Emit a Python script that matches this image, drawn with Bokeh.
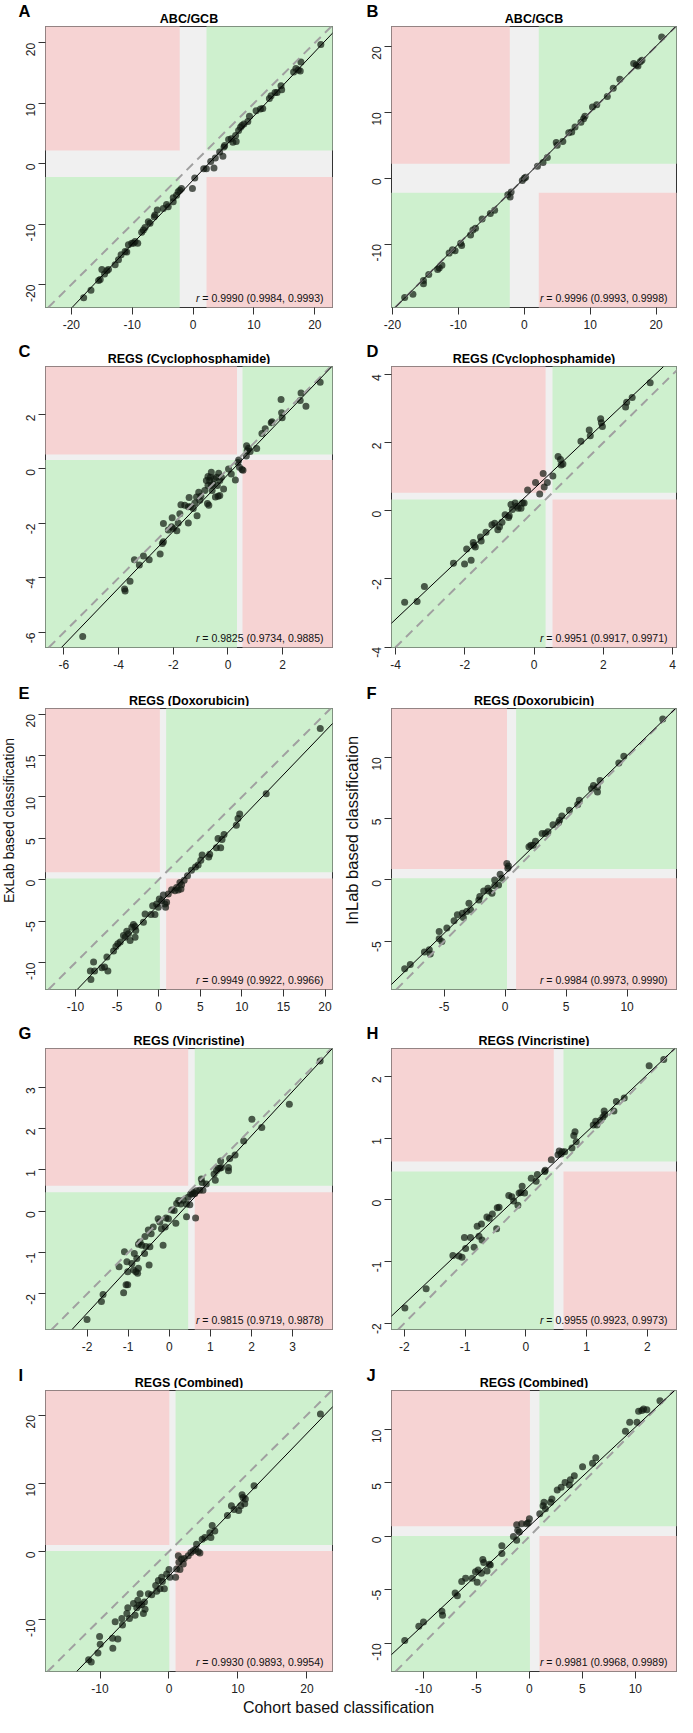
import math
from bokeh.plotting import figure
from bokeh.models import Label, Slope, FixedTicker, Range1d
from bokeh.layouts import column, row
from bokeh.embed import file_html
from bokeh.resources import INLINE

# ---------------- data ----------------
panel_letters = ["A", "B", "C", "D", "E", "F", "G", "H", "I", "J"]
panel_titles = ["ABC/GCB", "ABC/GCB",
                "REGS (Cyclophosphamide)", "REGS (Cyclophosphamide)",
                "REGS (Doxorubicin)", "REGS (Doxorubicin)",
                "REGS (Vincristine)", "REGS (Vincristine)",
                "REGS (Combined)", "REGS (Combined)"]
r_texts = ["0.9990 (0.9984, 0.9993)", "0.9996 (0.9993, 0.9998)",
           "0.9825 (0.9734, 0.9885)", "0.9951 (0.9917, 0.9971)",
           "0.9949 (0.9922, 0.9966)", "0.9984 (0.9973, 0.9990)",
           "0.9815 (0.9719, 0.9878)", "0.9955 (0.9923, 0.9973)",
           "0.9930 (0.9893, 0.9954)", "0.9981 (0.9968, 0.9989)"]
y_axis_titles = ["ExLab based classification", "InLab based classification"]
x_axis_title = "Cohort based classification"

a_x = [-17.98, -16.78, -15.53, -15.26, -14.99, -14.55, -14.17, -13.90, -12.81, -12.26, -11.83, -11.17, -10.90, -10.63,
       -10.08, -9.81, -9.54, -9.10, -8.45, -8.17, -7.90, -7.36, -7.08, -6.38, -6.27, -5.89, -4.90, -4.36, -4.09, -3.27,
       -3.27, -2.72, -2.45, -2.18, -1.91, -0.11, 0.27, 1.74, 2.18, 2.89, 3.43, 3.65, 4.36, 4.90, 5.07, 5.18, 5.83, 6.27,
       6.54, 7.08, 6.98, 7.47, 7.79, 8.01, 8.34, 8.99, 9.26, 10.35, 11.06, 11.44, 12.53, 12.81, 13.46, 13.79, 14.44,
       14.55, 16.51, 16.89, 17.28, 17.60, 17.71, 20.98]
a_y = [-22.19, -20.93, -19.34, -19.18, -17.53, -18.25, -17.70, -17.53, -16.71, -15.89, -15.07, -14.52, -14.63, -13.42,
       -13.15, -13.15, -12.88, -13.15, -11.34, -10.96, -10.58, -9.59, -9.86, -8.77, -8.49, -7.67, -7.40, -6.74, -7.12,
       -6.30, -5.64, -5.21, -4.66, -4.38, -4.11, -4.11, -2.36, -0.82, -0.82, 0.38, -0.71, 0.93, 1.92, 1.21, 2.74, 3.01,
       4.00, 4.11, 3.56, 3.67, 4.66, 5.48, 6.03, 6.30, 6.58, 6.96, 7.84, 8.77, 9.04, 9.15, 10.79, 11.23, 11.78, 11.78,
       12.88, 12.22, 15.18, 15.73, 15.51, 15.34, 16.82, 19.73]

b_x = [-18.15, -16.9, -15.3, -15.3, -14.5, -13.15, -12.9, -12.5, -11.4, -10.9, -10.5, -9.65, -9.5, -8.15, -7.8, -7.4,
       -6.4, -5.15, -4.5, -2.5, -2.15, -2.0, -0.3, 0.0, 0.2, 2.0, 2.85, 3.5, 4.85, 5.0, 5.85, 6.75, 7.2, 7.7, 8.6, 9.0,
       9.2, 10.35, 11.0, 12.6, 13.5, 14.5, 16.6, 17.0, 17.25, 17.6, 17.85, 20.85]
b_y = [-18.1, -17.6, -16.0, -15.5, -14.6, -13.85, -13.6, -13.2, -11.35, -10.85, -11.0, -9.85, -10.2, -8.6, -7.85, -7.6,
       -6.2, -5.35, -4.85, -2.5, -2.85, -2.1, -0.35, 0.0, 0.15, 1.8, 2.4, 3.15, 5.4, 5.0, 5.55, 6.9, 7.0, 7.75, 8.5, 9.0,
       9.4, 10.8, 11.15, 12.4, 13.65, 15.0, 17.4, 17.15, 17.0, 17.65, 17.9, 21.4]

c_x = [-5.31, -3.78, -3.76, -3.58, -3.42, -3.24, -3.09, -2.88, -2.48, -2.40, -2.36, -2.36, -2.18, -2.06, -2.04, -2.0,
       -1.87, -1.82, -1.76, -1.72, -1.58, -1.45, -1.45, -1.42, -1.37, -1.27, -1.21, -1.15, -1.13, -1.07, -1.03, -0.99,
       -0.85, -0.79, -0.75, -0.73, -0.73, -0.70, -0.67, -0.64, -0.61, -0.61, -0.58, -0.55, -0.51, -0.46, -0.42, -0.39,
       -0.36, -0.34, -0.30, -0.30, -0.24, -0.16, 0.02, 0.12, 0.27, 0.36, 0.39, 0.42, 0.51, 0.55, 0.67, 0.68, 0.70, 0.75,
       0.81, 1.05, 1.24, 1.36, 1.58, 1.61, 1.94, 1.96, 1.98, 2.64, 2.67, 2.85, 3.37]
c_y = [-6.15, -4.40, -4.48, -4.12, -3.33, -3.52, -3.19, -3.33, -3.12, -2.73, -2.67, -2.00, -2.24, -2.12, -1.79, -2.18,
       -2.27, -1.98, -1.64, -1.31, -1.33, -1.98, -1.39, -1.05, -1.39, -1.45, -1.25, -1.03, -1.72, -0.85, -1.15, -1.0,
       -0.79, -0.42, -1.27, -0.61, -0.28, -1.33, -0.42, -0.30, -0.61, -0.12, -0.79, -0.55, -0.36, -1.03, -0.30, -0.61,
       -1.0, -0.16, -0.42, -0.97, -0.30, -0.73, 0.0, -0.18, -0.40, 0.24, 0.33, 0.06, -0.02, -0.05, 0.48, 0.85, 0.67, 0.76,
       0.64, 0.75, 1.30, 1.48, 1.70, 1.73, 2.55, 2.06, 1.88, 2.51, 2.79, 2.30, 3.18]

d_x = [-3.74, -3.38, -3.17, -2.33, -2.01, -1.95, -1.82, -1.76, -1.74, -1.70, -1.53, -1.55, -1.39, -1.22, -1.14, -1.05,
       -1.0, -0.93, -0.84, -0.74, -0.72, -0.67, -0.63, -0.55, -0.50, -0.46, -0.38, -0.34, -0.29, -0.19, 0.04, 0.16, 0.26,
       0.29, 0.38, 0.54, 0.69, 0.76, 0.78, 0.83, 1.35, 1.59, 1.62, 1.92, 1.94, 1.97, 2.64, 2.67, 2.83, 3.35]
d_y = [-2.68, -2.66, -2.22, -1.54, -1.56, -1.12, -1.45, -0.93, -1.01, -1.06, -0.89, -0.77, -0.63, -0.41, -0.37, -0.56,
       -0.47, -0.34, -0.12, -0.20, -0.15, 0.18, 0.04, 0.23, 0.13, 0.07, 0.07, 0.23, 0.23, 0.61, 0.83, 0.49, 1.09, 0.70,
       0.83, 1.02, 1.59, 1.50, 1.34, 1.37, 2.04, 2.37, 2.20, 2.70, 2.58, 2.47, 3.04, 3.18, 3.32, 3.75]

e_x = [-8.21, -8.14, -7.82, -7.7, -6.82, -6.5, -6.1, -6.22, -5.42, -5.14, -4.9, -4.62, -4.23, -4.03, -3.83, -3.63,
       -3.43, -3.23, -3.03, -2.83, -2.83, -2.75, -1.83, -1.63, -0.92, -0.72, -0.44, -0.24, -0.04, 0.08, 0.36, 0.56, 0.76,
       0.84, 0.96, 1.16, 1.56, 1.96, 2.16, 2.36, 2.56, 2.68, 2.76, 3.07, 3.47, 3.95, 4.43, 4.75, 5.07, 5.23, 6.02, 6.14,
       6.94, 7.14, 7.46, 7.62, 7.86, 9.34, 9.54, 9.74, 12.93, 19.43]
e_y = [-11.0, -12.04, -9.92, -11.0, -10.6, -10.52, -11.0, -9.32, -8.6, -8.04, -7.72, -7.52, -6.72, -6.92, -6.2, -6.52,
       -7.32, -5.72, -5.4, -5.64, -6.92, -6.12, -5.12, -4.12, -4.2, -3.12, -4.2, -2.92, -3.32, -2.32, -2.52, -1.84, -2.92,
       -3.32, -2.72, -1.72, -1.2, -1.32, -0.92, -1.24, -0.32, -1.12, -0.6, -0.04, 0.48, 1.16, 1.56, 1.8, 2.36, 3.0, 2.76,
       3.08, 3.88, 5.0, 3.88, 4.88, 5.48, 6.6, 7.4, 7.96, 10.4, 18.28]

f_x = [-8.24, -7.78, -6.62, -6.22, -6.14, -5.41, -5.41, -5.19, -4.78, -4.19, -3.92, -3.51, -3.43, -3.16, -2.97, -2.84,
       -2.16, -2.08, -1.76, -1.41, -1.35, -1.08, -0.86, -0.86, -0.54, -0.41, -0.27, 0.14, 0.22, 0.27, 1.95, 2.11, 2.30,
       2.49, 3.03, 3.30, 3.51, 3.92, 4.38, 4.46, 4.65, 5.27, 5.95, 6.08, 7.08, 7.24, 7.57, 7.57, 7.78, 9.32, 9.73, 12.92]
f_y = [-7.22, -6.89, -5.86, -5.68, -6.03, -4.19, -4.78, -5.0, -3.92, -3.32, -2.84, -2.70, -3.05, -2.57, -1.89, -2.43,
       -1.62, -1.35, -0.89, -0.68, -0.89, -1.08, 0.0, -0.46, -0.41, 0.46, 0.14, 1.35, 0.95, 1.14, 2.70, 2.84, 2.84,
       3.16, 3.78, 3.78, 3.92, 4.51, 4.68, 4.86, 5.22, 5.68, 6.14, 6.49, 7.43, 7.70, 7.57, 7.16, 8.11, 9.54, 10.08, 13.11]

g_x = [-2.0, -1.65, -1.61, -1.22, -1.11, -1.09, -1.05, -1.01, -1.03, -1.01, -0.91, -0.87, -0.85, -0.81, -0.79, -0.77,
       -0.75, -0.75, -0.71, -0.67, -0.60, -0.59, -0.57, -0.51, -0.49, -0.47, -0.44, -0.39, -0.27, -0.23, -0.19, -0.15,
       -0.10, -0.08, -0.02, 0.06, 0.12, 0.16, 0.18, 0.23, 0.28, 0.34, 0.42, 0.42, 0.46, 0.50, 0.52, 0.56, 0.58, 0.62,
       0.64, 0.66, 0.74, 0.78, 0.80, 0.82, 0.90, 1.09, 1.12, 1.15, 1.19, 1.23, 1.25, 1.27, 1.44, 1.44, 1.47, 1.60, 1.81,
       2.01, 2.25, 2.92, 3.67]
g_y = [-2.62, -2.18, -2.01, -1.34, -1.97, -0.98, -1.78, -1.78, -1.22, -1.46, -1.26, -1.42, -1.02, -1.46, -1.14, -1.50,
       -0.80, -1.38, -0.74, -0.82, -1.02, -0.61, -0.85, -0.45, -1.30, -0.86, -0.54, -0.38, -0.18, -0.26, -0.42, -0.82,
       -0.38, -0.16, -0.18, 0.03, 0.02, -0.29, 0.19, 0.26, 0.18, 0.27, 0.18, -0.13, 0.34, 0.16, 0.42, 0.42, 0.46, 0.43,
       -0.16, 0.50, 0.51, 0.78, 0.70, 0.51, 0.66, 0.90, 0.75, 0.99, 1.04, 1.04, 1.22, 1.06, 1.06, 0.98, 1.28, 1.36, 1.70,
       2.23, 2.03, 2.59, 3.64]

h_x = [-1.99, -1.64, -1.20, -1.10, -1.05, -1.01, -0.99, -0.91, -0.85, -0.80, -0.77, -0.73, -0.72, -0.64, -0.60, -0.55,
       -0.48, -0.47, -0.44, -0.28, -0.23, -0.20, -0.13, -0.11, -0.08, -0.06, -0.02, 0.09, 0.17, 0.19, 0.31, 0.32, 0.42,
       0.53, 0.55, 0.58, 0.60, 0.64, 0.76, 0.79, 0.81, 0.83, 1.11, 1.15, 1.17, 1.23, 1.27, 1.29, 1.30, 1.45, 1.49, 1.62,
       2.03, 2.27]
h_y = [-1.75, -1.44, -0.90, -0.91, -0.93, -0.61, -0.79, -0.61, -0.77, -0.43, -0.59, -0.39, -0.65, -0.28, -0.30, -0.23,
       -0.47, -0.13, -0.12, 0.07, 0.05, -0.02, -0.09, 0.11, 0.12, 0.22, 0.11, 0.35, 0.30, 0.41, 0.46, 0.48, 0.65, 0.73,
       0.79, 0.74, 0.78, 0.78, 0.84, 1.04, 1.10, 0.94, 1.21, 1.27, 1.21, 1.29, 1.34, 1.44, 1.38, 1.44, 1.59, 1.65, 2.17,
       2.27]

i_x = [-11.65, -11.27, -10.3, -9.97, -10.06, -8.14, -8.18, -7.41, -7.80, -6.74, -6.84, -6.11, -5.97, -5.73, -5.15,
       -4.91, -4.67, -4.53, -4.33, -4.19, -3.95, -3.71, -3.56, -3.47, -2.99, -2.5, -1.93, -1.78, -1.54, -1.30, -1.06,
       -0.96, -0.67, -0.34, 0.0, 0.14, 0.96, 1.11, 1.35, 1.44, 1.59, 1.83, 2.07, 2.21, 2.79, 3.18, 3.51, 3.85, 4.0, 4.24,
       4.48, 4.81, 5.20, 5.92, 6.07, 6.26, 6.64, 8.47, 9.05, 9.44, 10.11, 10.40, 10.59, 10.74, 10.98, 11.07, 12.33, 21.95]
i_y = [-15.87, -16.2, -14.9, -13.6, -12.48, -14.18, -12.72, -12.82, -10.3, -10.79, -9.82, -9.10, -8.27, -9.82, -7.64,
       -9.34, -8.27, -7.16, -7.89, -6.19, -7.79, -9.10, -7.40, -8.47, -6.19, -6.34, -4.98, -5.85, -4.26, -5.47, -3.77,
       -4.40, -5.47, -3.29, -2.66, -3.77, -3.77, -2.56, -0.63, -1.60, -2.66, -1.11, -1.84, -1.02, -0.63, -0.15, 0.10,
       0.34, 1.06, -0.05, -0.24, 1.79, 2.03, 2.76, 2.03, 3.82, 3.0, 5.27, 6.72, 6.14, 6.0, 6.72, 8.32, 7.93, 7.01, 7.69,
       9.63, 20.17]

j_x = [-11.77, -10.44, -10.0, -8.26, -8.2, -7.01, -6.8, -6.39, -6.02, -5.40, -5.09, -4.93, -4.84, -4.53, -4.40, -4.31,
       -4.0, -3.78, -3.69, -2.60, -2.60, -1.51, -1.20, -1.20, -1.10, -0.95, -0.73, -0.26, -0.11, 0.0, 0.98, 1.29, 1.38,
       1.51, 2.0, 2.13, 2.63, 3.0, 3.37, 3.78, 3.87, 4.24, 5.02, 5.96, 6.27, 9.07, 9.47, 10.16, 10.31, 10.62, 10.78,
       11.09, 12.33]
j_y = [-9.72, -8.39, -7.99, -7.0, -7.37, -5.30, -5.55, -4.22, -3.91, -3.91, -3.29, -4.28, -3.14, -3.45, -2.15, -2.43,
       -3.23, -2.61, -2.67, -1.59, -0.88, 0.0, -0.36, 1.10, 0.57, 0.42, 1.19, 1.19, 1.28, 1.65, 2.12, 2.88, 3.2, 2.58,
       3.20, 3.51, 4.34, 4.59, 5.05, 4.81, 5.3, 5.67, 6.51, 6.85, 7.37, 9.85, 10.68, 10.68, 11.7, 11.79, 11.92, 11.86,
       12.69]

x_limits = [(-24.25, 22.9), (-20.15, 23.1), (-6.67, 3.82), (-4.12, 4.11), (-13.6, 20.9),
            (-9.32, 14.05), (-3.01, 3.97), (-2.21, 2.48), (-17.9, 23.7), (-13.02, 13.89)]
y_limits = [(-23.8, 22.7), (-19.6, 23.0), (-6.55, 3.76), (-4.01, 4.23), (-13.24, 20.68),
            (-8.92, 13.97), (-2.86, 3.94), (-2.10, 2.45), (-17.6, 23.6), (-12.63, 13.65)]
# grey-zone limits (low, high) used for both axes
cut_limits = [(-2.2, 2.2), (-2.2, 2.2), (0.33, 0.53), (0.33, 0.53), (0.15, 0.9),
              (0.15, 0.9), (0.46, 0.62), (0.46, 0.62), (0.05, 0.95), (0.05, 0.95)]
fit_slopes = [1.061, 1.0, 1.043, 0.958, 1.046, 0.965, 1.074, 0.929, 1.046, 0.924]
fit_intercepts = [-2.70, 0.0, -0.20, 0.65, -3.0, 0.49, -0.32, 0.17, -3.6, 0.98]
x_ticks = [[-20, -10, 0, 10, 20], [-20, -10, 0, 10, 20], [-6, -4, -2, 0, 2], [-4, -2, 0, 2, 4],
           [-10, -5, 0, 5, 10, 15, 20], [-5, 0, 5, 10], [-2, -1, 0, 1, 2, 3], [-2, -1, 0, 1, 2],
           [-10, 0, 10, 20], [-10, -5, 0, 5, 10]]
y_ticks = [[-20, -10, 0, 10, 20], [-10, 0, 10, 20], [-6, -4, -2, 0, 2], [-4, -2, 0, 2, 4],
           [-10, -5, 0, 5, 10, 15, 20], [-5, 0, 5, 10], [-2, -1, 0, 1, 2, 3], [-2, -1, 0, 1, 2],
           [-10, 0, 10, 20], [-10, -5, 0, 5, 10]]

xs_all = [a_x, b_x, c_x, d_x, e_x, f_x, g_x, h_x, i_x, j_x]
ys_all = [a_y, b_y, c_y, d_y, e_y, f_y, g_y, h_y, i_y, j_y]

# ---------------- style / layout ----------------
FONT = "Liberation Sans"
PINK = "#F6D3D3"
GREEN = "#CEF0CE"
BAND = "#F0F0F0"
TOTAL_W = 677
FRAME_H = 281
HEADER_H = 24
PANEL_TOP = 2
row_heights = [340, 342, 340, 342, 333]
FOOTER_H = 20
LEFT_FW, RIGHT_FW = 287, 285
LEFT_FRAME_X, RIGHT_FRAME_X = 45, 391

ARIAL_W = {"0": 556, "1": 556, "2": 556, "3": 556, "4": 556, "5": 556, "6": 556, "7": 556, "8": 556, "9": 556,
           ".": 278, ",": 278, "(": 333, ")": 333, " ": 278, "=": 584}


def text_width(s, size):
    return sum(ARIAL_W.get(ch, 556) for ch in s) / 1000.0 * size


def blank(w, h):
    f = figure(width=w, height=h, x_range=Range1d(0, w), y_range=Range1d(0, h),
               output_backend="svg", toolbar_location=None, tools="",
               min_border=0, x_axis_location=None, y_axis_location=None,
               outline_line_color=None, background_fill_color="white", border_fill_color="white")
    f.grid.visible = False
    return f


def make_header(r):
    hd = blank(TOTAL_W, HEADER_H)
    letter_mid = 13.5  # vertical middle of the panel letter
    title_base = 6     # baseline 8px above the frame top
    for k, (lx, fx, fw) in enumerate([(18, LEFT_FRAME_X, LEFT_FW), (366, RIGHT_FRAME_X, RIGHT_FW)]):
        i = 2 * r + k
        hd.add_layout(Label(x=lx, y=letter_mid, text=panel_letters[i], text_font=FONT, text_font_style="bold",
                            text_font_size="16.5px", text_align="left", text_baseline="middle",
                            text_color="black"))
        hd.add_layout(Label(x=fx + fw / 2, y=title_base, text=panel_titles[i], text_font=FONT,
                            text_font_style="bold", text_font_size="12.5px", text_align="center",
                            text_baseline="alphabetic", text_color="black"))
    return hd


def make_panel(i, w, bl, br, h):
    fw = w - bl - br
    bb = h - PANEL_TOP - FRAME_H
    x0, x1 = x_limits[i]
    y0, y1 = y_limits[i]
    lo, hi = cut_limits[i]
    p = figure(width=w, height=h, x_range=Range1d(x0, x1), y_range=Range1d(y0, y1),
               output_backend="svg", toolbar_location=None, tools="",
               min_border_left=bl, min_border_right=br, min_border_top=PANEL_TOP, min_border_bottom=bb,
               background_fill_color=BAND, border_fill_color="white",
               outline_line_color="#333333", outline_line_width=1)
    p.grid.visible = False
    ex = (x1 - x0)
    ey = (y1 - y0)
    p.quad(left=[x0 - ex, hi, x0 - ex, hi], right=[lo, x1 + ex, lo, x1 + ex],
           bottom=[hi, hi, y0 - ey, y0 - ey], top=[y1 + ey, y1 + ey, lo, lo],
           fill_color=[PINK, GREEN, GREEN, PINK], line_color=None)
    p.scatter(xs_all[i], ys_all[i], size=7, fill_color="#101810", fill_alpha=0.7, line_color=None)
    p.add_layout(Slope(gradient=1, y_intercept=0, line_color="#A0A0A0", line_width=2, line_dash="9 6"))
    p.add_layout(Slope(gradient=fit_slopes[i], y_intercept=fit_intercepts[i], line_color="black", line_width=1))

    for ax in (p.xaxis[0], p.yaxis[0]):
        ax.axis_line_color = None
        ax.major_tick_line_color = "#333333"
        ax.major_tick_out = 7
        ax.major_tick_in = 0
        ax.minor_tick_line_color = None
        ax.major_label_text_font = FONT
        ax.major_label_text_font_size = "12px"
        ax.major_label_text_color = "#222222"
    p.xaxis.ticker = FixedTicker(ticks=x_ticks[i])
    p.xaxis.major_label_overrides = {t: str(t) for t in x_ticks[i]}
    p.xaxis.major_label_standoff = 5
    p.yaxis.ticker = FixedTicker(ticks=y_ticks[i])
    p.yaxis.major_label_overrides = {t: str(t) for t in y_ticks[i]}
    p.yaxis.major_label_orientation = math.pi / 2
    p.yaxis.major_label_standoff = 8

    # correlation text (inside the frame)
    rsize = 10.5
    rest = "= " + r_texts[i]
    p.add_layout(Label(x=fw - 9, y=9.5, x_units="screen", y_units="screen", text=rest,
                       text_font=FONT, text_font_size=f"{rsize}px", text_align="right",
                       text_baseline="alphabetic", text_color="#111111"))
    p.add_layout(Label(x=fw - 9 - text_width(rest, rsize) - 2.9, y=9.5, x_units="screen", y_units="screen",
                       text="r", text_font=FONT, text_font_style="italic", text_font_size=f"{rsize}px",
                       text_align="right", text_baseline="alphabetic", text_color="#111111"))
    return p


def make_strip(w, h, text, cx, cy, size):
    s = blank(w, h)
    s.add_layout(Label(x=cx, y=cy, text=text, angle=math.pi / 2, text_font=FONT, text_font_size=size,
                       text_align="center", text_baseline="middle", text_color="#111111"))
    return s


items = []
for r in range(5):
    items.append(make_header(r))
    ph = row_heights[r] - HEADER_H
    if r == 2:
        strip_l = make_strip(16, ph, y_axis_titles[0], 8, ph - 126, "14px")
        pe = make_panel(2 * r, 325, 29, 9, ph)
        strip_m = make_strip(21, ph, y_axis_titles[1], 10.5, ph - 137, "16.5px")
        pf = make_panel(2 * r + 1, 315, 29, 1, ph)
        items.append(row(strip_l, pe, strip_m, pf))
    else:
        pl = make_panel(2 * r, 341, 45, 9, ph)
        pr = make_panel(2 * r + 1, 336, 50, 1, ph)
        items.append(row(pl, pr))

footer = blank(TOTAL_W, FOOTER_H)
footer.add_layout(Label(x=338, y=10, text=x_axis_title, text_font=FONT, text_font_size="16px",
                        text_align="center", text_baseline="middle", text_color="#111111"))
items.append(footer)

layout = column(*items)
open("out.html", "w").write(file_html(layout, INLINE))
